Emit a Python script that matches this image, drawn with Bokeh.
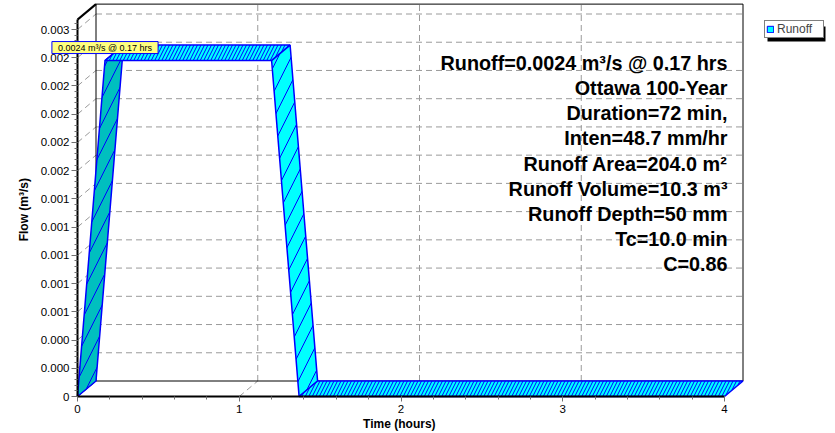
import numpy as np
from bokeh.plotting import figure
from bokeh.models import (Range1d, FixedTicker, Label, Legend, LegendItem,
                          ColumnDataSource, BoxAnnotation)
from bokeh.embed import file_html
from bokeh.resources import INLINE

# ---------------- data ----------------
TIME_H = [0.0, 0.17, 1.20, 1.37, 4.0]
FLOW_CMS = [0.0, 0.00238, 0.00238, 0.0, 0.0]
SERIES_NAME = "Runoff"
PEAK_LABEL = "0.0024 m³/s @ 0.17 hrs"
INFO_LINES = [
    "Runoff=0.0024 m³/s @ 0.17 hrs",
    "Ottawa 100-Year",
    "Duration=72 min,",
    "Inten=48.7 mm/hr",
    "Runoff Area=204.0 m²",
    "Runoff Volume=10.3 m³",
    "Runoff Depth=50 mm",
    "Tc=10.0 min",
    "C=0.86",
]
X_TICKS = [0, 1, 2, 3, 4]
X_TICK_LABELS = ["0", "1", "2", "3", "4"]
Y_TICKS = [0.0, 0.0002, 0.0004, 0.0006, 0.0008, 0.0010, 0.0012,
           0.0014, 0.0016, 0.0018, 0.0020, 0.0022, 0.0024, 0.0026]
Y_TICK_LABELS = ["0", "0.000", "0.000", "0.001", "0.001", "0.001", "0.001",
                 "0.001", "0.002", "0.002", "0.002", "0.002", "0.002", "0.003"]
X_LABEL = "Time  (hours)"
Y_LABEL = "Flow  (m³/s)"

# ---------------- layout / style ----------------
W, H = 835, 433
ORIGIN_PX = (77.0, 396.0)          # where (0, 0) sits on the canvas
PX_X = 647.0 / 4.0                  # pixels per hour
PX_Y = 367.0 / 0.0026               # pixels per m3/s
X_MAX = 4.0
Y_AXIS_TOP = 0.00267
DX = 18.5 / PX_X                    # 3D depth offset
DY = 15.5 / PX_Y
X_BACK = X_MAX + DX
Y_BACK_TOP = Y_AXIS_TOP + DY


def cx(px):  # canvas px -> x data (for decorations only)
    return (px - ORIGIN_PX[0]) / PX_X


def cy(py):  # canvas px -> y data (for decorations only)
    return (ORIGIN_PX[1] - py) / PX_Y


LEGEND_BOX = (764, 822, 23, 38)     # left, right, top, bottom in canvas px
SHADOW = 3

FONT = "Liberation Sans"
CYAN = "#00FFFF"
TEAL = "#00BFBF"
BLUE = "#0000FF"
GRID = "#9a9a9a"

x_range = Range1d(cx(0), cx(W))
y_range = Range1d(cy(H), cy(0))

p = figure(width=W, height=H, output_backend="svg", toolbar_location=None,
           x_range=x_range, y_range=y_range,
           min_border_left=0, min_border_right=0, min_border_top=0,
           min_border_bottom=0)
p.outline_line_color = None
p.grid.visible = False
p.background_fill_color = "white"
p.border_fill_color = "white"

# ---- 3D box grid ----
gx0, gy0, gx1, gy1 = [], [], [], []
for t in Y_TICKS[1:]:
    gx0 += [0, DX]; gy0 += [t, t + DY]
    gx1 += [DX, X_BACK]; gy1 += [t + DY, t + DY]
for t in X_TICKS[1:-1]:
    gx0 += [t, t + DX]; gy0 += [0, DY]
    gx1 += [t + DX, t + DX]; gy1 += [DY, Y_BACK_TOP]
p.segment(gx0, gy0, gx1, gy1, line_color=GRID, line_width=1, line_dash="6 4")

# ---- box edges ----
p.segment([DX, DX, X_BACK, DX, 0], [DY, DY, DY, Y_BACK_TOP, 0],
          [DX, X_BACK, X_BACK, X_BACK, DX], [Y_BACK_TOP, DY, Y_BACK_TOP, Y_BACK_TOP, DY],
          line_color="black", line_width=1)
p.segment([0], [Y_AXIS_TOP], [DX], [Y_BACK_TOP], line_color="black", line_width=2)

# ---- ribbon faces ----
xs, ys, fills, scales = [], [], [], []
for i in range(len(TIME_H) - 1):
    t0, t1 = TIME_H[i], TIME_H[i + 1]
    q0, q1 = FLOW_CMS[i], FLOW_CMS[i + 1]
    xs.append([t0, t1, t1 + DX, t0 + DX])
    ys.append([q0, q1, q1 + DY, q0 + DY])
    fills.append(TEAL if q1 > q0 else CYAN)
    scales.append(7 if q1 == q0 else 26)
src = ColumnDataSource(dict(xs=xs, ys=ys, fill=fills, hs=scales))
p.patches("xs", "ys", source=src, fill_color="fill", line_color=BLUE,
          line_width=1.5, hatch_pattern="/", hatch_color=BLUE,
          hatch_scale="hs", hatch_weight=1)

# legend swatch renderer (zero-size quad at the origin, hidden under the axes)
swatch = p.quad(left=[TIME_H[0]], right=[TIME_H[0]], top=[FLOW_CMS[0]],
                bottom=[FLOW_CMS[0]], fill_color=CYAN, line_color=BLUE,
                line_width=1)

# ---- axes (pinned at the data origin) ----
p.xaxis.fixed_location = 0
p.yaxis.fixed_location = 0
p.xaxis.ticker = FixedTicker(ticks=X_TICKS, minor_ticks=list(np.arange(0, 4.0001, 0.2)))
p.xaxis.major_label_overrides = {t: l for t, l in zip(X_TICKS, X_TICK_LABELS)}
p.xaxis.bounds = (0, X_MAX)
p.yaxis.ticker = FixedTicker(ticks=Y_TICKS, minor_ticks=list(np.arange(0, Y_AXIS_TOP, 0.00004)))
p.yaxis.major_label_overrides = {t: l for t, l in zip(Y_TICKS, Y_TICK_LABELS)}
p.yaxis.bounds = (0, Y_AXIS_TOP)
for ax in (p.xaxis, p.yaxis):
    ax.axis_line_color = "black"
    ax.axis_line_width = 2
    ax.major_tick_line_color = "#707070"
    ax.minor_tick_line_color = "#707070"
    ax.major_tick_in = 0
    ax.minor_tick_in = 0
    ax.minor_tick_out = 3
    ax.major_label_text_font = FONT
    ax.major_label_text_font_size = "11.5px"
    ax.major_label_text_color = "black"
    ax.axis_label_text_font = FONT
    ax.axis_label_text_font_size = "12px"
    ax.axis_label_text_font_style = "bold"
    ax.axis_label_text_color = "black"
p.xaxis.major_tick_out = 5
p.xaxis.major_label_standoff = 3
p.xaxis.axis_label = X_LABEL
p.xaxis.axis_label_standoff = 1
p.yaxis.major_tick_out = 6
p.yaxis.major_label_standoff = 2
p.yaxis.axis_label = Y_LABEL
p.yaxis.axis_label_standoff = 7

# ---- peak callout ----
ipk = int(np.argmax(FLOW_CMS))
p.add_layout(Label(x=TIME_H[ipk], y=FLOW_CMS[ipk], y_offset=13, text=PEAK_LABEL,
                   text_align="center", text_baseline="middle",
                   text_font=FONT, text_font_size="9px", text_color="black",
                   background_fill_color="#FFFF80", border_line_color=BLUE,
                   border_line_width=1, padding=(6, 1)))

# ---- info block ----
for k, line in enumerate(INFO_LINES):
    p.add_layout(Label(x=X_BACK, y=Y_BACK_TOP, x_offset=-15.5, y_offset=-(59.0 + 25.1 * k),
                       text=line, text_align="right", text_baseline="middle",
                       text_font=FONT, text_font_size="19.8px",
                       text_font_style="bold", text_color="black"))

# ---- legend (with drop shadow) ----
lx0, lx1, ly0, ly1 = LEGEND_BOX
p.add_layout(BoxAnnotation(left=cx(lx0 + SHADOW), right=cx(lx1 + SHADOW),
                           top=cy(ly0 + SHADOW), bottom=cy(ly1 + SHADOW),
                           fill_color="black", fill_alpha=1, line_color=None))
legend = Legend(items=[LegendItem(label=SERIES_NAME, renderers=[swatch])],
                location=(lx0, H - ly1), border_line_color="black",
                border_line_width=1, background_fill_color="white",
                background_fill_alpha=1, label_text_font=FONT,
                label_text_font_size="12px", glyph_width=8, glyph_height=8,
                label_height=9, label_width=(lx1 - lx0) - 2 - 8 - 3,
                label_standoff=3, padding=1, spacing=0, margin=0)
p.add_layout(legend)

open("out.html", "w").write(file_html(p, INLINE))
